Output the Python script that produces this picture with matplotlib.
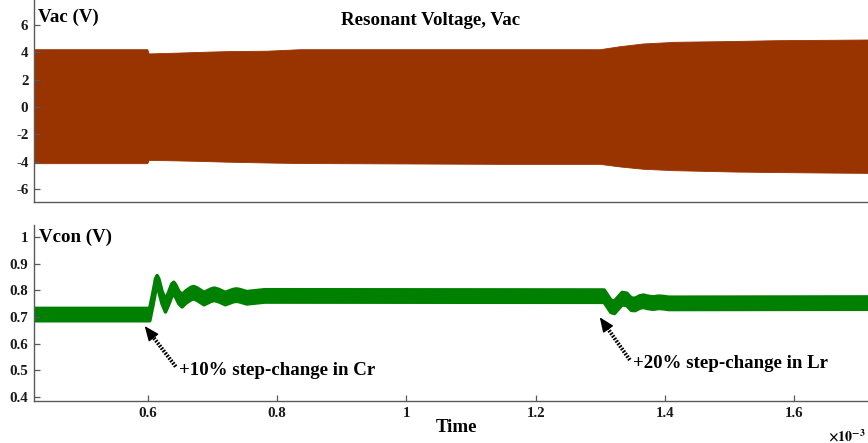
import matplotlib
matplotlib.use("Agg")
import matplotlib.pyplot as plt
import numpy as np

# Time axis in units of 1e-3 s
x_limits = (0.4237, 1.714)

# Resonant voltage Vac: envelope of the high-frequency waveform
vac_t = [0.4237, 0.599, 0.601, 0.639, 0.685, 0.722, 0.784, 0.835, 1.0, 1.145, 1.299,
         1.33, 1.366, 1.403, 1.412, 1.505, 1.573, 1.66, 1.714]
vac_upper = [4.23, 4.23, 3.92, 3.97, 4.04, 4.09, 4.12, 4.23, 4.23, 4.23, 4.23,
             4.45, 4.65, 4.74, 4.77, 4.83, 4.89, 4.92, 4.94]
vac_lower = [-4.11, -4.11, -3.87, -3.90, -3.95, -4.00, -4.06, -4.10, -4.13, -4.16, -4.16,
             -4.35, -4.52, -4.60, -4.62, -4.72, -4.76, -4.80, -4.82]

# Control voltage Vcon: mean value and ripple half-width
vcon_t = [0.4237, 0.602, 0.607, 0.611, 0.6134, 0.616, 0.621, 0.6263, 0.631,
          0.636, 0.6391, 0.642, 0.647, 0.6521, 0.658, 0.666, 0.670, 0.675,
          0.686, 0.697, 0.702, 0.708, 0.719, 0.731, 0.736, 0.741, 0.752, 0.780,
          1.305, 1.310, 1.3155, 1.321, 1.327, 1.333, 1.340, 1.347, 1.353,
          1.360, 1.366, 1.372, 1.381, 1.389, 1.396, 1.405, 1.714]
vcon_mean = [0.711, 0.711, 0.770, 0.822, 0.834, 0.822, 0.775, 0.744, 0.770,
             0.802, 0.809, 0.800, 0.775, 0.763, 0.777, 0.790, 0.793, 0.788,
             0.771, 0.784, 0.787, 0.783, 0.771, 0.782, 0.784, 0.782, 0.774, 0.781,
             0.780, 0.762, 0.742, 0.738, 0.755, 0.771, 0.768, 0.750, 0.749,
             0.758, 0.761, 0.757, 0.754, 0.757, 0.756, 0.753, 0.754]
vcon_ripple = 0.023

vac_yticks = [-6, -4, -2, 0, 2, 4, 6]
vcon_yticks = [0.4, 0.5, 0.6, 0.7, 0.8, 0.9, 1.0]
vcon_yticklabels = ["0.4", "0.5", "0.6", "0.7", "0.8", "0.9", "1"]
time_ticks = [0.6, 0.8, 1.0, 1.2, 1.4, 1.6]
time_ticklabels = ["0.6", "0.8", "1", "1.2", "1.4", "1.6"]

plt.rcParams["font.family"] = ["Liberation Serif", "DejaVu Serif"]
plt.rcParams["font.weight"] = "bold"
plt.rcParams["mathtext.fontset"] = "stix"

W, H = 868, 443
fig = plt.figure(figsize=(W / 100, H / 100), dpi=100)

def px_axes(left, top, right, bottom):
    return fig.add_axes([left / W, 1 - bottom / H, (right - left) / W, (bottom - top) / H])

axis_grey = "#5a5a5a"
label_fs = 13.6

def style(ax):
    for s in ("top", "right"):
        ax.spines[s].set_visible(False)
    for s in ("left", "bottom"):
        ax.spines[s].set_color(axis_grey)
        ax.spines[s].set_linewidth(1.0)
    ax.tick_params(direction="in", length=4, width=0.9, color=axis_grey,
                   labelsize=10.8, labelcolor="#1a1a1a", pad=4)
    for lab in ax.get_xticklabels() + ax.get_yticklabels():
        lab.set_fontweight("bold")

# Top panel: resonant voltage
ax1 = px_axes(34, 0, 868, 202)
ax1.fill_between(vac_t, vac_lower, vac_upper, color="#993300", linewidth=0.6,
                 edgecolor="#993300")
ax1.set_xlim(*x_limits)
ax1.set_ylim(-6.95, 7.83)
ax1.set_yticks(vac_yticks)
ax1.set_yticklabels([str(v) for v in vac_yticks])
ax1.set_xticks([])
style(ax1)
ax1.text(0.005, 0.915, "Vac (V)", transform=ax1.transAxes, fontsize=label_fs,
         fontweight="bold", va="center", ha="left")
ax1.text(0.475, 0.90, "Resonant Voltage, Vac", transform=ax1.transAxes,
         fontsize=label_fs, fontweight="bold", va="center", ha="center")

# Bottom panel: control voltage (ripple band with a stroked outline)
ax2 = px_axes(34, 225, 868, 401)
vm = np.array(vcon_mean)
ax2.fill_between(vcon_t, vm - vcon_ripple, vm + vcon_ripple, facecolor="#008000",
                 edgecolor="#008000", linewidth=2.6, joinstyle="round")
ax2.set_xlim(*x_limits)
ax2.set_ylim(0.385, 1.045)
ax2.set_yticks(vcon_yticks)
ax2.set_yticklabels(vcon_yticklabels)
ax2.set_xticks(time_ticks)
ax2.set_xticklabels(time_ticklabels)
style(ax2)
ax2.text(0.006, 0.93, "Vcon (V)", transform=ax2.transAxes, fontsize=label_fs,
         fontweight="bold", va="center", ha="left")

# Step-change annotations: dotted shaft with a solid head
def dotted_arrow(ax, tip, tail):
    tip = np.array(tip)
    tail = np.array(tail)
    neck = tip + 0.28 * (tail - tip)
    ax.plot([tail[0], neck[0]], [tail[1], neck[1]], color="black", lw=2.8,
            linestyle=(0, (0.45, 0.35)), solid_capstyle="butt",
            dash_capstyle="butt")
    ax.annotate("", xy=tuple(tip), xytext=tuple(neck),
                arrowprops=dict(arrowstyle="-|>,head_length=0.9,head_width=0.38",
                                lw=1.0, color="black", shrinkA=0, shrinkB=0))

dotted_arrow(ax2, (0.595, 0.666), (0.643, 0.514))
ax2.text(0.6475, 0.50, "+10% step-change in Cr", fontsize=label_fs,
         fontweight="bold", va="center", ha="left")
dotted_arrow(ax2, (1.299, 0.699), (1.3455, 0.539))
ax2.text(1.350, 0.527, "+20% step-change in Lr", fontsize=label_fs,
         fontweight="bold", va="center", ha="left")

fig.text(456.7 / W, 1 - 427.7 / H, "Time", fontsize=label_fs, fontweight="bold",
         ha="center", va="center")
fig.text(828 / W, 1 - 436 / H, r"$\times\mathbf{10^{-3}}$", fontsize=10,
         ha="left", va="center")

fig.savefig("out.png", dpi=100)
